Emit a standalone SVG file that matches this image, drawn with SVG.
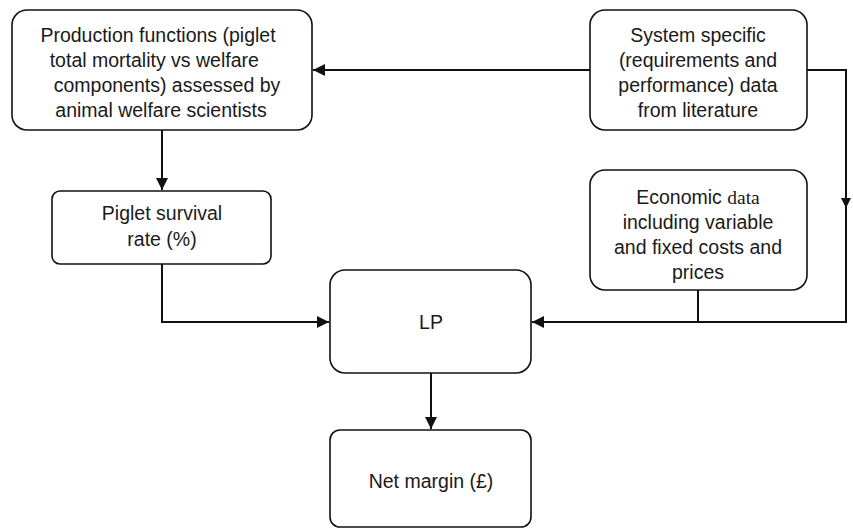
<svg xmlns="http://www.w3.org/2000/svg" width="853" height="529" viewBox="0 0 853 529">
<style>
.box{fill:#fff;stroke:#111;stroke-width:1.6}
.t{font-family:"Liberation Sans",Arial,sans-serif;font-size:19.5px;fill:#1a1a1a;text-anchor:middle}
.c{fill:none;stroke:#111;stroke-width:2}
</style>
<defs>
<marker id="ah" viewBox="0 0 10 10" refX="10" refY="5" markerWidth="12" markerHeight="12" markerUnits="userSpaceOnUse" orient="auto">
<path d="M0,0 L10,5 L0,10 Z" fill="#111"/>
</marker>
<marker id="ahs" viewBox="0 0 10 10" refX="10" refY="5" markerWidth="10" markerHeight="10" markerUnits="userSpaceOnUse" orient="auto">
<path d="M0,0 L10,5 L0,10 Z" fill="#111"/>
</marker>
</defs>
<rect width="853" height="529" fill="#fff"/>
<g id="connectors">
<path class="c" d="M590,70 H313" marker-end="url(#ah)"/>
<path class="c" d="M162,130 V190" marker-end="url(#ah)"/>
<path class="c" d="M807,70 H846 V208"/>
<path class="c" d="M846,196 V208" marker-end="url(#ahs)"/>
<path class="c" d="M846,206 V322 H532" marker-end="url(#ah)"/>
<path class="c" d="M698,290 V322"/>
<path class="c" d="M162,264 V322 H329" marker-end="url(#ah)"/>
<path class="c" d="M431,373 V429" marker-end="url(#ah)"/>
</g>
<g id="production">
<rect class="box" x="12" y="10" width="300" height="120" rx="15"/>
<text class="t"><tspan x="158" y="42">Production functions (piglet</tspan><tspan x="157" y="67">total mortality vs welfare </tspan><tspan x="167" y="92">components) assessed by</tspan><tspan x="161" y="117">animal welfare scientists</tspan></text>
</g>
<g id="system">
<rect class="box" x="590" y="10" width="217" height="120" rx="15"/>
<text class="t"><tspan x="698" y="42">System specific</tspan><tspan x="698" y="67">(requirements and</tspan><tspan x="698" y="92">performance) data</tspan><tspan x="698" y="117">from literature</tspan></text>
</g>
<g id="economic">
<rect class="box" x="590" y="170" width="217" height="120" rx="15"/>
<text class="t"><tspan x="698" y="204">Economic <tspan style="font-family:'Liberation Serif',serif">data</tspan></tspan><tspan x="698" y="229">including variable</tspan><tspan x="698" y="254">and fixed costs and</tspan><tspan x="698" y="279">prices</tspan></text>
</g>
<g id="piglet">
<rect class="box" x="52" y="191" width="219" height="73" rx="8"/>
<text class="t"><tspan x="162" y="220">Piglet survival</tspan><tspan x="162" y="246">rate (%)</tspan></text>
</g>
<g id="lp">
<rect class="box" x="330" y="270" width="201" height="103" rx="15"/>
<text class="t" x="431" y="329">LP</text>
</g>
<g id="netmargin">
<rect class="box" x="330" y="430" width="201" height="97" rx="10"/>
<text class="t" x="431" y="488">Net margin (£)</text>
</g>
</svg>
